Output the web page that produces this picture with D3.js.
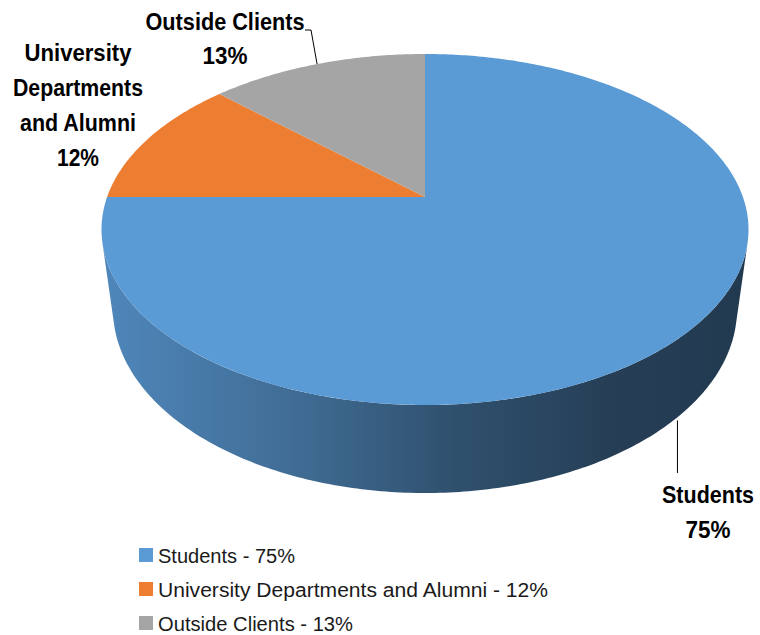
<!DOCTYPE html>
<html>
<head>
<meta charset="utf-8">
<script src="https://cdn.jsdelivr.net/npm/d3@7"></script>
<style>
  body { margin: 0; background: #fff; }
  svg { display: block; }
  .lbl { font-family: "Liberation Sans", Arial, sans-serif; font-weight: bold; font-size: 23px; fill: #000; }
  .leg { font-family: "Liberation Sans", Arial, sans-serif; font-size: 20px; fill: #1a1a1a; }
</style>
</head>
<body>
<div id="chart"></div>
<script>
// data
var categories = ["Students", "University Departments and Alumni", "Outside Clients"];
var values     = [75, 12, 13];
var colors     = ["#5b9bd5", "#ed7d31", "#a5a5a5"];
// data label text, wrapped the way the chart shows it
var labelLines = [["Students"], ["University", "Departments", "and Alumni"], ["Outside Clients"]];

var width = 760, height = 635;

// perspective camera for the 3d pie (fitted to the picture)
var cam = {cx: 425, cy: 197, F: 1452.5, s: 0.5331, c: 0.846, L: 4.569, T: 0.306};

function project(a, h) {
  // a = pie angle (0 at 12 o'clock, clockwise), h = world height (0 top, -T bottom)
  var x = Math.sin(a), z = Math.cos(a);
  var depth = cam.L - h * cam.s + z * cam.c;
  var yc = h * cam.c + z * cam.s;
  return [cam.cx + cam.F * x / depth, cam.cy - cam.F * yc / depth];
}

var svg = d3.select("#chart").append("svg")
  .attr("width", width)
  .attr("height", height);

var pie = d3.pie().sort(null).startAngle(0).endAngle(2 * Math.PI);
var arcs = pie(values);

// gradient on the side wall
var grad = svg.append("defs").append("linearGradient")
  .attr("id", "side")
  .attr("gradientUnits", "userSpaceOnUse")
  .attr("x1", 102).attr("x2", 749).attr("y1", 0).attr("y2", 0);
[[0, "#4f87bb"], [0.3, "#406c94"], [0.55, "#2f506d"], [0.78, "#263f57"], [1, "#223a50"]].forEach(function (st) {
  grad.append("stop").attr("offset", st[0]).attr("stop-color", st[1]);
});

// silhouette: tangent from the vanishing point of vertical lines
var vpY = cam.cy + cam.F * cam.c / cam.s;
var aR = 0, aL = 0, best = -1e9, worst = 1e9;
for (var i = 0; i <= 2000; i++) {
  var a = i / 2000 * 2 * Math.PI, p = project(a, 0);
  var r = (p[0] - cam.cx) / (vpY - p[1]);
  if (r > best) { best = r; aR = a; }
  if (r < worst) { worst = r; aL = a; }
}

var line = d3.line();
var sidePts = [];
d3.range(0, 201).forEach(function (k) { sidePts.push(project(aR + (aL - aR) * k / 200, 0)); });
d3.range(200, -1, -1).forEach(function (k) { sidePts.push(project(aR + (aL - aR) * k / 200, -cam.T)); });

svg.append("path")
  .attr("d", line(sidePts) + "Z")
  .attr("fill", "url(#side)");

// top face slices
svg.selectAll("path.slice")
  .data(arcs)
  .enter()
  .append("path")
  .attr("class", "slice")
  .attr("fill", function (d, i) { return colors[i]; })
  .attr("d", function (d) {
    var n = Math.max(8, Math.ceil((d.endAngle - d.startAngle) * 80));
    var pts = [[cam.cx, cam.cy]];
    for (var k = 0; k <= n; k++) {
      pts.push(project(d.startAngle + (d.endAngle - d.startAngle) * k / n, 0));
    }
    return line(pts) + "Z";
  });

// data labels (x centre, first baseline, line step, widths of each line)
var labelPos = [
  {x: 708, y: 503, dy: 35, w: [92, 45]},
  {x: 78, y: 61, dy: 35, w: [107, 130, 116, 42]},
  {x: 225, y: 30, dy: 34, w: [159, 45]}
];

arcs.forEach(function (d, i) {
  var pos = labelPos[i];
  var lines = labelLines[i].concat([values[i] + "%"]);
  lines.forEach(function (s, j) {
    svg.append("text")
      .attr("class", "lbl")
      .attr("text-anchor", "middle")
      .attr("x", pos.x)
      .attr("y", pos.y + j * pos.dy)
      .attr("textLength", pos.w[j])
      .attr("lengthAdjust", "spacingAndGlyphs")
      .text(s);
  });
});

// leader lines
var mid0 = (arcs[0].startAngle + arcs[0].endAngle) / 2;
var p0 = project(mid0, -cam.T);
svg.append("path")
  .attr("d", line([[p0[0] + 4, p0[1]], [p0[0] + 4, 473]]))
  .attr("fill", "none").attr("stroke", "#000").attr("stroke-width", 1);

var mid2 = (arcs[2].startAngle + arcs[2].endAngle) / 2;
var p2 = project(mid2, 0);
svg.append("path")
  .attr("d", line([[305, 30], [311, 30], [p2[0], p2[1]]]))
  .attr("fill", "none").attr("stroke", "#000").attr("stroke-width", 1);

// legend
var legendW = [137, 390, 195];
var legend = svg.selectAll("g.legend")
  .data(categories)
  .enter()
  .append("g")
  .attr("class", "legend")
  .attr("transform", function (d, i) { return "translate(139," + (548 + i * 34) + ")"; });

legend.append("rect")
  .attr("width", 14).attr("height", 14)
  .attr("fill", function (d, i) { return colors[i]; });

legend.append("text")
  .attr("class", "leg")
  .attr("x", 19).attr("y", 15)
  .attr("textLength", function (d, i) { return legendW[i]; })
  .attr("lengthAdjust", "spacingAndGlyphs")
  .text(function (d, i) { return d + " - " + values[i] + "%"; });
</script>
</body>
</html>
